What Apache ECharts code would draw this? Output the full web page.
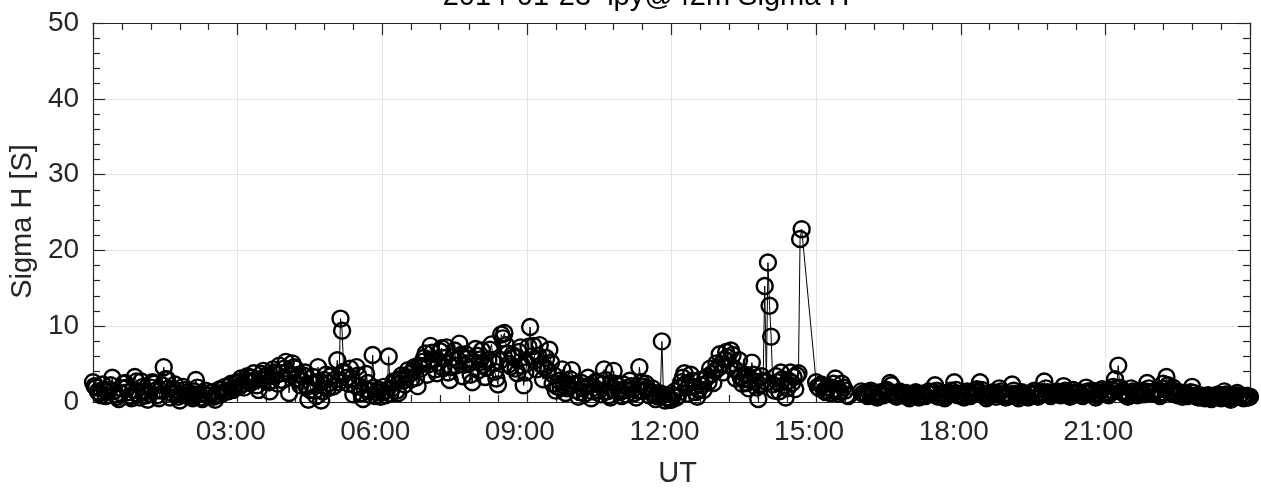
<!DOCTYPE html>
<html>
<head>
<meta charset="utf-8">
<script src="https://cdn.jsdelivr.net/npm/echarts@6/dist/echarts.min.js"></script>
<style>
  html, body { margin: 0; padding: 0; background: #fff; }
  #chart { width: 1261px; height: 493px; }
</style>
</head>
<body>
<div id="chart"></div>
<script>
// ---- data ----
const chartTitle = '2014-01-23  lpy@42m Sigma H';
const yName = 'Sigma H [S]';
const xName = 'UT';
const sampleStepMinutes = 2;           // sample clock: one value every 2 minutes from 00:00
const xTickHours = [0, 3, 6, 9, 12, 15, 18, 21, 24];
const xTickLabels = ['', '03:00', '06:00', '09:00', '12:00', '15:00', '18:00', '21:00', ''];
const yTicks = [0, 10, 20, 30, 40, 50];

// Sigma H [S], one row per hour (30 samples each), null = no data
const sigmaH = [
  2.6, 2.1, 1.9, 1.4, 1.2, 0.9, 2.3, 1.7, 0.8, 1.3, 1.6, 2.2, 3.2, 1.5, 1.0, 0.7, 0.4, 1.2, 1.8, 2.4, 2.5, 1.9, 1.3, 0.8, 0.5, 1.6, 3.3, 2.7, 1.1, 0.6, // 00
  2.7, 2.0, 1.4, 0.9, 0.3, 1.1, 1.9, 2.6, 2.4, 1.5, 0.9, 0.5, 1.5, 2.2, 4.6, 3.0, 3.0, 1.8, 0.6, 1.2, 1.7, 2.3, 1.1, 0.7, 0.2, 1.0, 2.0, 1.6, 1.3, 0.8, // 01
  1.2, 0.8, 0.5, 1.4, 2.9, 1.9, 1.0, 0.6, 0.4, 1.1, 1.5, 0.9, 0.8, 1.2, 1.3, 0.7, 0.3, 0.9, 1.1, 1.7, 1.6, 1.2, 2.0, 1.5, 1.4, 2.1, 2.4, 1.6, 1.8, 2.5, // 02
  2.6, 2.0, 3.1, 2.4, 1.9, 2.8, 3.4, 2.7, 2.5, 3.2, 3.8, 2.9, 2.2, 1.6, 3.0, 3.7, 4.1, 3.3, 3.5, 2.6, 1.4, 2.8, 4.3, 3.9, 3.6, 2.4, 4.8, 3.8, 2.9, 4.4, // 03
  5.3, 4.0, 1.2, 3.6, 5.1, 4.6, 4.4, 3.1, 3.6, 2.2, 2.8, 3.5, 3.9, 2.0, 0.3, 1.6, 2.4, 3.3, 1.5, 0.8, 4.6, 2.7, 0.2, 1.4, 2.9, 3.6, 1.8, 2.5, 3.4, 2.0, // 04
  2.1, 3.0, 5.5, 2.6, 11.0, 9.4, 4.0, 3.8, 3.2, 2.4, 4.4, 3.1, 1.0, 2.2, 4.6, 3.5, 2.0, 1.2, 0.4, 1.7, 3.7, 2.5, 1.5, 0.9, 6.2, 1.9, 0.8, 1.3, 1.6, 0.7, // 05
  1.3, 2.0, 0.9, 1.6, 6.0, 1.1, 1.8, 2.7, 2.6, 1.5, 1.2, 3.0, 3.5, 2.8, 2.3, 3.3, 4.2, 3.7, 3.0, 4.0, 4.6, 3.2, 2.1, 4.8, 4.4, 5.3, 5.8, 6.4, 3.6, 5.0, // 06
  7.4, 6.5, 5.6, 4.3, 3.8, 5.2, 6.7, 7.1, 4.5, 5.8, 7.2, 3.9, 2.9, 4.6, 5.9, 6.8, 4.8, 5.5, 7.7, 6.2, 3.4, 4.9, 6.3, 5.7, 5.1, 3.6, 2.6, 5.3, 7.0, 6.1, // 07
  4.2, 5.6, 6.8, 4.9, 3.3, 4.5, 5.5, 6.9, 7.6, 5.2, 4.0, 3.1, 2.3, 5.4, 8.9, 8.4, 9.1, 7.5, 6.4, 5.0, 4.7, 6.2, 5.9, 4.4, 3.8, 6.6, 7.2, 4.8, 2.2, 3.9, // 08
  5.1, 7.3, 9.9, 6.0, 7.4, 5.5, 4.3, 6.1, 7.5, 4.9, 3.0, 4.6, 5.8, 4.2, 6.9, 5.2, 2.4, 3.5, 1.5, 2.0, 2.8, 1.9, 4.3, 2.6, 1.2, 1.8, 2.1, 3.0, 4.2, 2.3, // 09
  1.6, 2.4, 0.7, 1.3, 2.5, 1.8, 1.1, 2.0, 3.2, 2.2, 0.5, 1.4, 1.9, 2.7, 2.6, 1.5, 1.0, 2.3, 4.3, 2.9, 1.4, 0.9, 0.6, 1.7, 4.1, 2.4, 2.2, 1.6, 1.3, 0.8, // 10
  2.3, 1.6, 1.0, 1.9, 2.8, 2.1, 1.7, 1.2, 0.6, 1.5, 4.6, 2.6, 1.5, 2.0, 2.4, 1.8, 0.9, 1.3, 1.8, 1.1, 0.4, 0.8, 1.2, 0.7, 8.0, 1.0, 0.2, 0.6, 0.5, 0.3, // 11
  0.3, 0.9, 1.4, 0.6, 0.8, 1.9, 2.6, 3.2, 3.8, 2.4, 1.1, 2.0, 3.6, 2.8, 2.0, 1.3, 0.7, 1.6, 2.9, 2.2, 1.6, 3.0, 3.3, 2.6, 4.4, 3.7, 2.5, 4.1, 5.1, 4.5, // 12
  6.3, 5.0, 3.9, 5.6, 6.6, 5.9, 4.8, 6.8, 6.2, 4.4, 3.1, 4.1, 5.5, 3.3, 2.4, 3.0, 3.6, 2.5, 1.8, 2.9, 5.2, 3.6, 2.7, 1.9, 0.4, 2.2, 3.4, 2.8, 15.3, 2.6, // 13
  18.4, 12.7, 8.6, 2.3, 1.5, 3.4, 2.6, 1.4, 3.9, 3.0, 2.2, 0.6, 1.8, 2.8, 3.9, 2.5, 3.3, 1.7, 3.5, 3.8, 21.5, 22.8, null, null, null, null, null, null, null, null, // 14
  2.6, 2.0, 1.8, 2.3, 2.2, 1.5, 1.3, 1.9, 2.0, 1.2, 1.6, 2.4, 3.1, 1.7, 1.1, 1.4, 2.4, 1.9, 1.5, 0.9, 0.8, null, null, null, null, null, null, null, 1.4, 1.1, // 15
  1.2, 1.0, 0.8, 1.3, 1.5, 1.1, 1.0, 0.7, 0.6, 0.9, 1.3, 1.1, 0.9, 1.4, 1.6, 1.2, 2.5, 2.2, 1.1, 0.9, 0.7, 1.0, 1.4, 1.2, 0.9, 1.1, 1.2, 0.8, 0.5, 0.9, // 16
  0.9, 1.1, 1.3, 0.8, 0.6, 0.9, 1.1, 1.0, 0.8, 1.2, 1.4, 1.1, 1.0, 1.3, 2.2, 1.5, 0.7, 0.9, 1.2, 1.0, 0.5, 0.8, 1.0, 1.2, 1.5, 1.1, 2.6, 1.6, 0.9, 1.1, // 17
  1.0, 0.8, 0.6, 1.1, 1.4, 1.2, 0.8, 1.0, 1.2, 1.5, 1.7, 1.3, 2.6, 1.6, 1.1, 0.9, 0.5, 0.8, 0.9, 1.1, 1.3, 1.0, 0.7, 1.2, 1.8, 1.4, 1.0, 0.8, 0.6, 0.9, // 18
  0.8, 1.0, 2.3, 1.5, 1.1, 0.8, 0.5, 0.9, 1.3, 1.1, 0.9, 0.7, 0.6, 1.0, 1.2, 1.4, 1.5, 1.1, 0.7, 0.9, 1.0, 1.3, 2.7, 1.8, 1.3, 1.0, 0.8, 1.1, 1.1, 1.3, // 19
  1.4, 1.1, 0.9, 1.3, 2.1, 1.5, 1.2, 0.9, 0.7, 1.1, 1.6, 1.3, 1.0, 1.2, 1.3, 0.9, 0.8, 1.2, 1.9, 1.4, 1.1, 1.3, 1.5, 1.0, 0.6, 0.9, 1.2, 1.5, 1.7, 1.2, // 20
  1.3, 1.1, 0.9, 1.2, 1.6, 2.0, 3.0, 1.8, 4.8, 1.9, 1.4, 1.2, 1.1, 0.9, 0.7, 1.0, 1.8, 1.4, 1.2, 1.0, 0.9, 1.3, 1.5, 1.2, 1.0, 1.4, 2.5, 1.8, 1.3, 1.1, // 21
  1.2, 1.4, 1.6, 1.1, 0.8, 1.3, 2.4, 1.7, 3.3, 2.2, 1.5, 1.2, 1.9, 1.4, 1.0, 0.9, 1.3, 1.1, 0.7, 1.0, 1.1, 0.8, 0.9, 1.3, 2.0, 1.2, 0.8, 0.7, 0.6, 0.9, // 22
  0.7, 0.6, 0.5, 0.8, 0.9, 0.6, 0.4, 0.7, 0.6, 0.9, 1.0, 0.7, 0.5, 0.8, 1.4, 1.0, 0.8, 0.6, 0.3, 0.5, 0.6, 0.9, 1.2, 0.8, 0.9, 0.6, 0.5, 0.7, 0.8, 0.6, // 23
  0.7                                                                                                                                          // 24:00
];

// ---- chart ----
const seriesData = sigmaH.map((v, i) => [i * sampleStepMinutes / 60, v]);
const axisColor = '#262626';
const font = 'Liberation Sans, Arial, Helvetica, sans-serif';

function xLabel(v) {
  const k = xTickHours.indexOf(v);
  return k >= 0 ? xTickLabels[k] : '';
}

const baseX = {
  type: 'value', min: 0, max: 24, interval: 3,
  axisLine: { show: true, onZero: false, lineStyle: { color: axisColor, width: 1.2 } },
  axisTick: { show: true, inside: true, length: 12, lineStyle: { color: axisColor, width: 1.2 } },
  minorTick: { show: true, splitNumber: 5, length: 7, lineStyle: { color: axisColor, width: 1.2 } }
};
const baseY = {
  type: 'value', min: 0, max: 50, interval: 10,
  axisLine: { show: true, onZero: false, lineStyle: { color: axisColor, width: 1.2 } },
  axisTick: { show: true, inside: true, length: 12, lineStyle: { color: axisColor, width: 1.2 } },
  minorTick: { show: true, splitNumber: 5, length: 7, lineStyle: { color: axisColor, width: 1.2 } }
};

const chart = echarts.init(document.getElementById('chart'), null, { renderer: 'canvas' });
chart.setOption({
  animation: false,
  backgroundColor: '#fff',
  textStyle: { fontFamily: font },
  grid: { left: 92.5, top: 23, width: 1157.5, height: 384, containLabel: false },
  graphic: [{
    type: 'text', x: 646, y: -3, z: 100,
    style: { text: chartTitle, fill: '#000', font: '29px ' + font, textAlign: 'center', textVerticalAlign: 'middle' }
  }],
  xAxis: [
    Object.assign({}, baseX, {
      position: 'bottom',
      axisLabel: { show: true, formatter: xLabel, fontSize: 28, color: axisColor, margin: 16, fontFamily: font,
                   padding: [0, 14, 0, 0], showMinLabel: true, showMaxLabel: true },
      splitLine: { show: true, lineStyle: { color: '#e3e3e3', width: 1 } },
      name: xName, nameLocation: 'middle', nameGap: 57,
      nameTextStyle: { fontSize: 29, color: axisColor, fontFamily: font, padding: [0, 0, 0, 12] }
    }),
    Object.assign({}, baseX, {
      position: 'top',
      axisLabel: { show: false },
      splitLine: { show: false }
    })
  ],
  yAxis: [
    Object.assign({}, baseY, {
      position: 'left',
      axisLabel: { show: true, fontSize: 28, color: axisColor, margin: 14, fontFamily: font,
                   padding: [3, 0, 0, 0],
                   formatter: v => (yTicks.indexOf(v) >= 0 ? String(v) : '') },
      splitLine: { show: true, lineStyle: { color: '#e3e3e3', width: 1 } },
      name: yName, nameLocation: 'middle', nameGap: 52, nameRotate: 90,
      nameTextStyle: { fontSize: 29, color: axisColor, fontFamily: font, padding: [0, 18, 0, 0] }
    }),
    Object.assign({}, baseY, {
      position: 'right',
      axisLabel: { show: false },
      splitLine: { show: false }
    })
  ],
  series: [{
    type: 'line',
    xAxisIndex: 0, yAxisIndex: 0,
    data: seriesData,
    connectNulls: true,
    clip: false,
    symbol: 'circle',
    symbolSize: 16,
    showSymbol: true,
    showAllSymbol: true,
    lineStyle: { color: '#000', width: 1 },
    itemStyle: { color: 'rgba(0,0,0,0)', borderColor: '#000', borderWidth: 2.4 },
    emphasis: { disabled: true },
    z: 5
  }]
});
</script>
</body>
</html>
